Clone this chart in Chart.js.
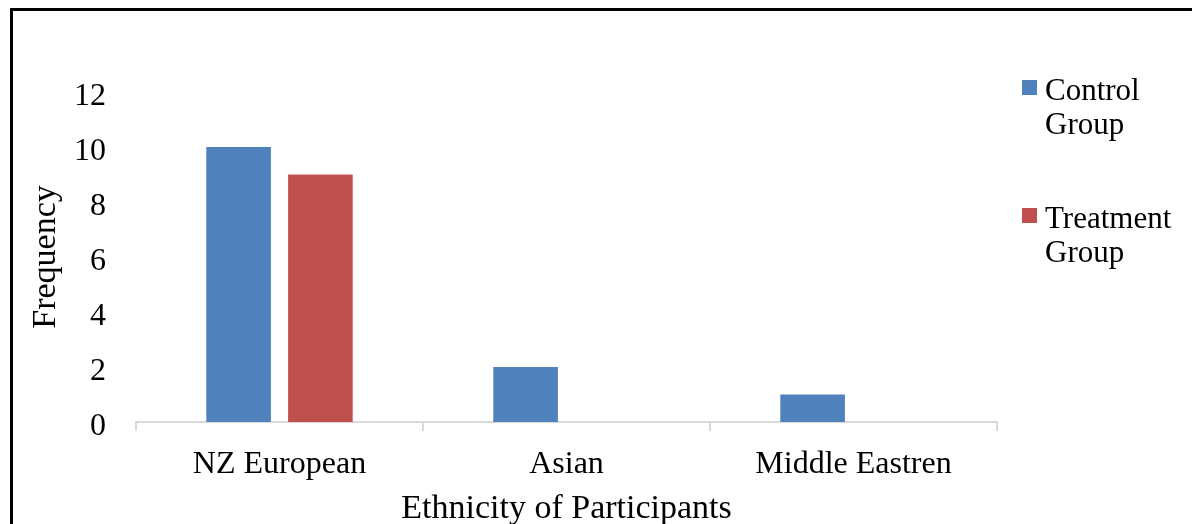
<!DOCTYPE html>
<html>
<head>
<meta charset="utf-8">
<script src="https://cdn.jsdelivr.net/npm/chart.js@4/dist/chart.umd.min.js"></script>
<style>
  body { margin: 0; background: #fff; }
  #frame {
    position: absolute; left: 10px; top: 8px;
    width: 1190px; height: 520px;
    border-left: 3px solid #000; border-top: 3px solid #000;
  }
  #wrap { position: absolute; left: 0; top: 0; width: 1192px; height: 524px; }
</style>
</head>
<body>
<div id="frame"></div>
<div id="wrap"><canvas id="ethnicityChart" width="1192" height="524"></canvas></div>
<script>
// data
const categories = ["NZ European", "Asian", "Middle Eastren"];
const controlValues = [10, 2, 1];
const treatmentValues = [9, 0, 0];
const seriesNames = ["Control Group", "Treatment Group"];
const yTicks = [0, 2, 4, 6, 8, 10, 12];

const serif = "'Liberation Serif', 'DejaVu Serif', serif";

// legend on the right, labels wrapped at the space like the original
const wrappedLegend = {
  id: "wrappedLegend",
  afterDraw(chart) {
    const ctx = chart.ctx;
    const area = chart.chartArea;
    const x = area.right + 25;
    let baseline = area.top + 8;
    ctx.save();
    ctx.font = "31px " + serif;
    ctx.textBaseline = "alphabetic";
    ctx.textAlign = "left";
    chart.data.datasets.forEach(ds => {
      ctx.fillStyle = ds.backgroundColor;
      ctx.fillRect(x, baseline - 20, 15, 15);
      ctx.fillStyle = "#000";
      ds.label.split(" ").forEach((line, i) => {
        ctx.fillText(line, x + 23, baseline + i * 34);
      });
      baseline += 128;
    });
    ctx.restore();
  }
};

const ctx = document.getElementById("ethnicityChart").getContext("2d");

new Chart(ctx, {
  type: "bar",
  data: {
    labels: categories,
    datasets: [
      { label: seriesNames[0], data: controlValues, backgroundColor: "#4f81bd" },
      { label: seriesNames[1], data: treatmentValues, backgroundColor: "#c0504d" }
    ]
  },
  options: {
    responsive: false,
    animation: false,
    devicePixelRatio: 1,
    categoryPercentage: 0.57,
    barPercentage: 0.79,
    layout: { padding: { top: 92, right: 195, bottom: 0, left: 0 } },
    plugins: {
      legend: { display: false },
      tooltip: { enabled: false }
    },
    scales: {
      x: {
        grid: {
          display: true, drawOnChartArea: false, drawTicks: true,
          tickLength: 9, color: "#d9d9d9", lineWidth: 2, offset: true
        },
        border: { display: true, color: "#d9d9d9", width: 2 },
        ticks: { color: "#000", padding: 14, font: { family: serif, size: 32 } },
        title: {
          display: true, text: "Ethnicity of Participants", color: "#000",
          font: { family: serif, size: 34, lineHeight: 0.9 },
          padding: { top: 0, bottom: 0 }
        },
        afterFit(scale) { scale.height = 102; }
      },
      y: {
        min: 0, max: 12,
        afterBuildTicks(scale) { scale.ticks = yTicks.map(v => ({ value: v })); },
        grid: { display: false, drawTicks: false },
        border: { display: false },
        ticks: { color: "#000", padding: 30, labelOffset: 5, font: { family: serif, size: 32 } },
        title: {
          display: true, text: "Frequency", color: "#000",
          font: { family: serif, size: 34, lineHeight: 1.1 },
          padding: { top: 27, bottom: 0 }
        },
        afterFit(scale) { scale.width = 136; }
      }
    }
  },
  plugins: [wrappedLegend]
});
</script>
</body>
</html>
